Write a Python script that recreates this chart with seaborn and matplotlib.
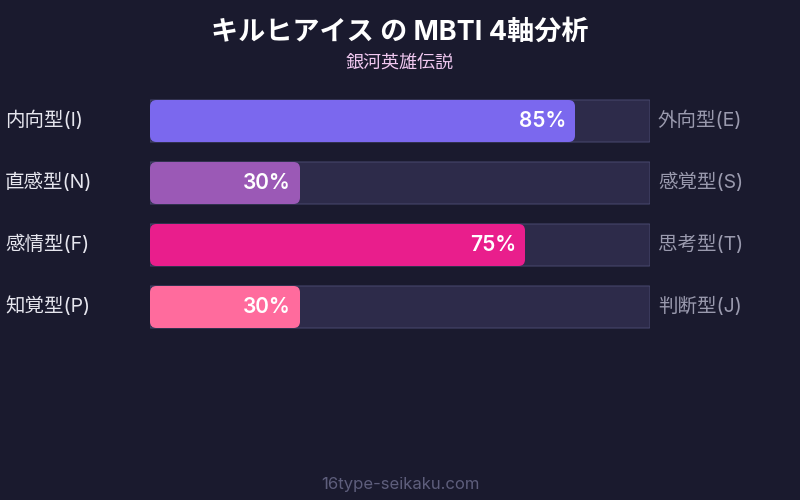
import matplotlib
matplotlib.use("Agg")
import matplotlib.pyplot as plt
from matplotlib.patches import FancyBboxPatch
import seaborn as sns
import pandas as pd

sns.set_style("dark")
FAM = ['Inter', 'Noto Sans CJK JP', 'DejaVu Sans']
plt.rcParams['font.family'] = FAM

title = "キルヒアイス の MBTI 4軸分析"
subtitle = "銀河英雄伝説"
footer = "16type-seikaku.com"
left_labels = ["内向型(I)", "直感型(N)", "感情型(F)", "知覚型(P)"]
right_labels = ["外向型(E)", "感覚型(S)", "思考型(T)", "判断型(J)"]
values = [85, 30, 75, 30]
colors = ["#7b68ee", "#9b59b6", "#e91e8c", "#ff6b9d"]
track_max = 100

BG = "#1a1a2e"
fig = plt.figure(figsize=(8, 5), dpi=100, facecolor=BG)
ax = fig.add_axes([150/800, 1-338/500, 500/800, 248/500])
ax.set_facecolor(BG)

df = pd.DataFrame({"axis": left_labels, "value": values,
                   "track": [track_max]*len(values)})

sns.barplot(data=df, x="track", y="axis", orient="h", color="#2d2b4a",
            width=42/62, ax=ax, saturation=1)
n_track = len(ax.patches)
sns.barplot(data=df, x="value", y="axis", hue="axis", orient="h",
            palette=colors, width=42/62, ax=ax, legend=False, saturation=1)

patches = list(ax.patches)
for i, p in enumerate(patches):
    x, y, w, h = p.get_x(), p.get_y(), p.get_width(), p.get_height()
    fc = p.get_facecolor()
    p.remove()
    if i < n_track:
        nb = FancyBboxPatch((x, y), w, h, boxstyle="round,pad=0,rounding_size=0.2",
                            mutation_aspect=5/62, facecolor=fc,
                            edgecolor="#45456a", linewidth=0.8)
    else:
        nb = FancyBboxPatch((x, y), w, h, boxstyle="round,pad=0,rounding_size=1.3",
                            mutation_aspect=5/62, facecolor=fc,
                            edgecolor="none", linewidth=0)
    ax.add_patch(nb)

for i, v in enumerate(values):
    ax.text(v - 1.8, i, f"{v}%", ha="right", va="center", color="white",
            fontsize=15, fontweight="semibold")

ax.set_xlim(0, track_max)
ax.set_ylim(len(values) - 0.5, -0.5)
ax.axis("off")

row_px = [120, 182, 244, 306]
for lbl, rl, yp in zip(left_labels, right_labels, row_px):
    fig.text(5/800, 1 - yp/500, lbl, ha="left", va="center",
             color="#e6e6ee", fontsize=14)
    fig.text(658/800, 1 - yp/500, rl, ha="left", va="center",
             color="#9a9aae", fontsize=14)

fig.text(0.5, 1 - 33/500, title, ha="center", va="center", color="white",
         fontsize=19.5, fontweight="bold")
fig.text(0.5, 1 - 63/500, subtitle, ha="center", va="center",
         color="#f0c8f0", fontsize=13)
fig.text(0.5, 1 - 484/500, footer, ha="center", va="center",
         color="#5e5e7c", fontsize=12)

fig.savefig("out.png", dpi=100, facecolor=BG)
